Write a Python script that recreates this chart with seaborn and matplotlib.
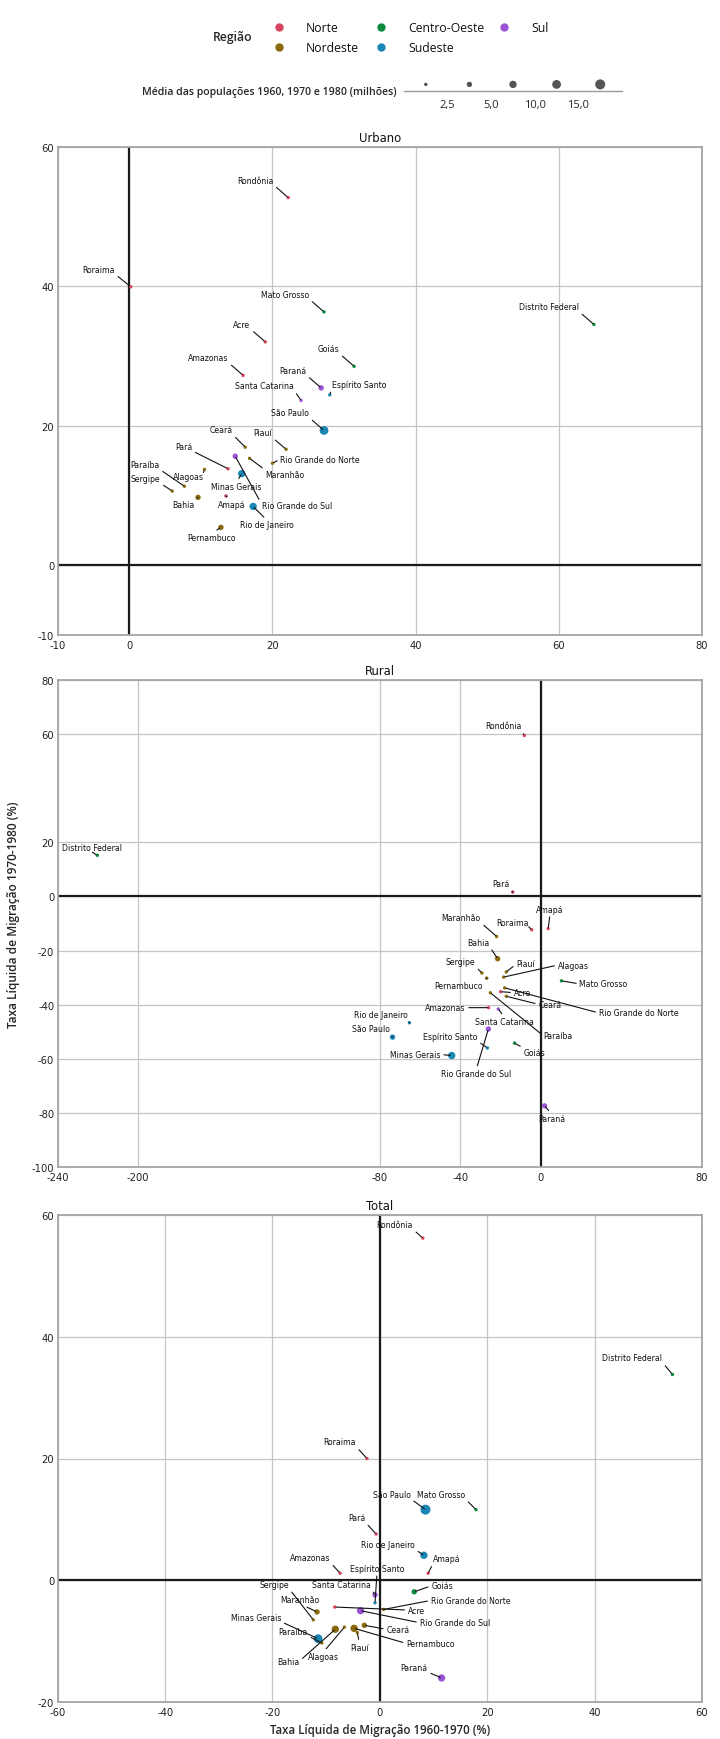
import numpy as np
import pandas as pd
import matplotlib
matplotlib.use('Agg')
import matplotlib.pyplot as plt
from matplotlib import font_manager
import seaborn as sns

# Estados e regiões
estados = ['Rondônia', 'Acre', 'Amazonas', 'Roraima', 'Pará', 'Amapá',
           'Maranhão', 'Piauí', 'Ceará', 'Rio Grande do Norte', 'Paraíba',
           'Pernambuco', 'Alagoas', 'Sergipe', 'Bahia',
           'Minas Gerais', 'Espírito Santo', 'Rio de Janeiro', 'São Paulo',
           'Paraná', 'Santa Catarina', 'Rio Grande do Sul',
           'Mato Grosso', 'Goiás', 'Distrito Federal']
regioes = ['Norte'] * 6 + ['Nordeste'] * 9 + ['Sudeste'] * 4 + ['Sul'] * 3 + ['Centro-Oeste'] * 3

# Urbano: taxa 1960-1970 (x) e 1970-1980 (y)
urb_x = [22.2, 19.0, 15.9, 0.2, 13.8, 13.5, 16.8, 21.9, 16.2, 20.0, 7.7, 12.8, 10.5, 6.0, 9.6,
         15.7, 28.0, 17.3, 27.2, 26.8, 24.0, 14.8, 27.2, 31.4, 64.9]
urb_y = [52.7, 32.0, 27.2, 39.9, 13.8, 9.9, 15.3, 16.6, 16.9, 14.6, 11.3, 5.4, 13.7, 10.6, 9.7,
         13.1, 24.4, 8.4, 19.3, 25.4, 23.6, 15.6, 36.3, 28.5, 34.5]
urb_pop = [0.12, 0.07, 0.5, 0.02, 1.1, 0.07, 0.8, 0.6, 1.8, 0.7, 1.0, 2.8, 0.7, 0.45, 3.0,
           6.2, 0.8, 8.0, 14.9, 2.6, 1.3, 4.0, 0.8, 1.5, 0.57]

# Rural
rur_x = [-8.2, -20.0, -26.0, -4.6, -14.0, 3.6, -22.0, -17.2, -17.2, -18.0, -25.1, -26.9, -18.5, -29.3, -21.5,
         -44.3, -26.6, -65.3, -73.7, 1.8, -21.2, -26.1, 10.2, -13.1, -220.3]
rur_y = [59.5, -35.2, -41.1, -12.3, 1.6, -11.9, -14.8, -27.9, -36.9, -33.8, -35.6, -30.2, -29.8, -28.3, -23.0,
         -58.8, -56.0, -46.7, -52.0, -77.4, -41.6, -49.0, -31.2, -54.2, 15.2]
rur_pop = [0.1, 0.16, 0.55, 0.02, 1.3, 0.05, 2.3, 1.1, 2.4, 0.85, 1.4, 2.3, 0.95, 0.48, 4.6,
           5.4, 0.9, 1.0, 3.1, 3.7, 1.6, 2.6, 0.9, 1.4, 0.05]

# Total
tot_x = [8.0, -8.4, -7.4, -2.4, -0.7, 9.0, -11.7, -4.2, -2.9, 0.7, -10.8, -4.8, -6.6, -12.4, -8.3,
         -11.5, -0.9, 8.2, 8.5, 11.5, -0.9, -3.6, 17.9, 6.4, 54.5]
tot_y = [56.2, -4.4, 1.15, 20.0, 7.6, 1.15, -5.2, -8.6, -7.4, -4.8, -10.3, -7.9, -7.7, -6.5, -8.05,
         -9.6, -3.7, 4.1, 11.6, -16.05, -2.4, -5.0, 11.6, -1.9, 33.8]
tot_pop = [0.22, 0.23, 1.04, 0.05, 2.37, 0.12, 3.16, 1.73, 4.3, 1.54, 2.39, 5.1, 1.62, 0.93, 7.65,
           11.65, 1.68, 9.0, 18.6, 6.3, 2.9, 6.6, 1.7, 2.9, 0.62]

ordem_regioes = ['Norte', 'Nordeste', 'Centro-Oeste', 'Sudeste', 'Sul']
cores = {'Norte': '#d6455f', 'Nordeste': '#8a6a0c', 'Centro-Oeste': '#0a8a3f',
         'Sudeste': '#1b87b5', 'Sul': '#9a55d6'}
cortes = [0, 2.5, 5, 10, 15, np.inf]
rotulos_tamanho = ['2,5', '5,0', '10,0', '15,0']
tamanhos = {0: 6, 1: 15, 2: 28, 3: 40, 4: 52}

# posição dos rótulos (px a partir do ponto): dx, dy, ha, va
pos_urb = {
    'Rondônia': (-15, 13, 'right', 'bottom'), 'Roraima': (-16, 13, 'right', 'bottom'),
    'Mato Grosso': (-15, 13, 'right', 'bottom'), 'Distrito Federal': (-15, 13, 'right', 'bottom'),
    'Acre': (-15, 13, 'right', 'bottom'), 'Goiás': (-15, 13, 'right', 'bottom'),
    'Amazonas': (-15, 13, 'right', 'bottom'), 'Paraná': (-15, 13, 'right', 'bottom'),
    'Espírito Santo': (2, 6, 'left', 'bottom'), 'Santa Catarina': (-7, 10, 'right', 'bottom'),
    'São Paulo': (-15, 13, 'right', 'bottom'), 'Ceará': (-13, 13, 'right', 'bottom'),
    'Piauí': (-14, 12, 'right', 'bottom'), 'Rio Grande do Norte': (8, 4, 'left', 'center'),
    'Maranhão': (16, -12, 'left', 'top'), 'Pará': (-36, 18, 'right', 'bottom'),
    'Rio Grande do Sul': (27, -49, 'left', 'center'), 'Minas Gerais': (-5, -8, 'center', 'top'),
    'Alagoas': (-1, -3, 'right', 'top'), 'Paraíba': (-25, 17, 'right', 'bottom'),
    'Sergipe': (-12, 8, 'right', 'bottom'), 'Bahia': (-4, -3, 'right', 'top'),
    'Amapá': (6, -4, 'center', 'top'), 'Rio de Janeiro': (14, -14, 'center', 'top'),
    'Pernambuco': (-9, -6, 'center', 'top'),
}
pos_rur = {
    'Rondônia': (-3, 5, 'right', 'bottom'), 'Distrito Federal': (-5, 3, 'center', 'bottom'),
    'Pará': (-3, 4, 'right', 'bottom'), 'Amapá': (2, 15, 'center', 'bottom'),
    'Roraima': (-3, 3, 'right', 'bottom'), 'Maranhão': (-16, 14, 'right', 'bottom'),
    'Bahia': (-8, 12, 'right', 'bottom'), 'Sergipe': (-7, 7, 'right', 'bottom'),
    'Pernambuco': (-4, -3, 'right', 'top'), 'Piauí': (10, 8, 'left', 'center'),
    'Alagoas': (54, 12, 'left', 'center'), 'Mato Grosso': (18, -3, 'left', 'center'),
    'Rio Grande do Norte': (94, -25, 'left', 'center'), 'Acre': (13, -1, 'left', 'center'),
    'Ceará': (32, -8, 'left', 'center'), 'Paraíba': (53, -43, 'left', 'center'),
    'Amazonas': (-23, 0, 'right', 'center'), 'Santa Catarina': (6, -8, 'center', 'top'),
    'Rio de Janeiro': (-2, 4, 'right', 'bottom'), 'São Paulo': (-3, 4, 'right', 'bottom'),
    'Rio Grande do Sul': (-12, -40, 'center', 'top'), 'Espírito Santo': (-10, 7, 'right', 'bottom'),
    'Goiás': (9, -5, 'left', 'top'), 'Minas Gerais': (-11, 1, 'right', 'center'),
    'Paraná': (7, -8, 'center', 'top'),
}
pos_tot = {
    'Rondônia': (-10, 9, 'right', 'bottom'), 'Distrito Federal': (-10, 12, 'right', 'bottom'),
    'Roraima': (-11, 12, 'right', 'bottom'), 'São Paulo': (-15, 11, 'right', 'bottom'),
    'Mato Grosso': (-11, 11, 'right', 'bottom'), 'Pará': (-11, 12, 'right', 'bottom'),
    'Rio de Janeiro': (-9, 6, 'right', 'bottom'), 'Amapá': (5, 10, 'left', 'bottom'),
    'Amazonas': (-10, 11, 'right', 'bottom'), 'Espírito Santo': (2, 30, 'center', 'bottom'),
    'Santa Catarina': (-4, 6, 'right', 'bottom'), 'Goiás': (17, 6, 'left', 'center'),
    'Rio Grande do Norte': (47, 9, 'left', 'center'), 'Acre': (73, -3, 'left', 'center'),
    'Rio Grande do Sul': (59, -12, 'left', 'center'), 'Maranhão': (-17, 8, 'center', 'bottom'),
    'Sergipe': (-24, 31, 'right', 'bottom'), 'Minas Gerais': (-37, 17, 'right', 'bottom'),
    'Paraíba': (-14, 7, 'right', 'bottom'), 'Bahia': (-36, -32, 'right', 'center'),
    'Alagoas': (-21, -25, 'center', 'top'), 'Pernambuco': (52, -15, 'left', 'center'),
    'Piauí': (2, -10, 'center', 'top'), 'Ceará': (22, -4, 'left', 'center'),
    'Paraná': (-14, 6, 'right', 'bottom'),
}

sns.set_theme(style='white')

# fonte estreita, se houver
fontes = font_manager.fontManager.ttflist
nomes = {f.name for f in fontes}
if 'Liberation Sans Narrow' in nomes:
    plt.rcParams['font.family'] = ['Liberation Sans Narrow', 'DejaVu Sans']
    estreita = 'normal'
elif any(f.name == 'DejaVu Sans' and 'condensed' in str(f.stretch) for f in fontes):
    plt.rcParams['font.family'] = ['DejaVu Sans']
    estreita = 'condensed'
else:
    plt.rcParams['font.family'] = ['Liberation Sans', 'DejaVu Sans']
    estreita = 'normal'
plt.rcParams['font.stretch'] = estreita
fonte_leg = ['Open Sans', 'DejaVu Sans']


def montar(x, y, pop):
    df = pd.DataFrame({'estado': estados, 'regiao': regioes, 'x': x, 'y': y, 'pop': pop})
    df['faixa'] = pd.cut(df['pop'], cortes, right=False, labels=False).astype(int)
    return df


def painel(ax, df, pos, titulo, xlim, ylim, xticks, yticks):
    sns.scatterplot(data=df, x='x', y='y', hue='regiao', palette=cores, size='faixa',
                    sizes=tamanhos, linewidth=0, legend=False, ax=ax, zorder=3)
    ax.set_xlim(*xlim)
    ax.set_ylim(*ylim)
    ax.set_xticks(xticks)
    ax.set_yticks(yticks)
    ax.set_xticklabels([str(t) for t in xticks])
    ax.set_yticklabels([str(t) for t in yticks])
    ax.grid(True, color='#c4c4c4', lw=0.9, zorder=0)
    ax.set_axisbelow(True)
    ax.axhline(0, color='#1a1a1a', lw=1.6, zorder=1.5)
    ax.axvline(0, color='#1a1a1a', lw=1.6, zorder=1.5)
    for s in ax.spines.values():
        s.set_visible(True)
        s.set_color('#a5a5a5')
        s.set_linewidth(1.3)
    ax.tick_params(axis='y', length=0, pad=2.5, labelsize=8, colors='#222222')
    ax.tick_params(axis='x', length=0, pad=3.5, labelsize=8, colors='#222222')
    ax.set_xlabel('')
    ax.set_ylabel('')
    ax.set_title(titulo, fontsize=9.3, pad=4, color='#111111')
    for _, r in df.iterrows():
        dx, dy, ha, va = pos[r['estado']]
        rel = ({'left': 0, 'center': 0.5, 'right': 1}[ha], {'bottom': 0, 'center': 0.5, 'top': 1}[va])
        ax.annotate(r['estado'], xy=(r['x'], r['y']), xytext=(dx * 0.72, dy * 0.72),
                    textcoords='offset points', ha=ha, va=va, fontsize=6.2, color='#111111',
                    arrowprops=dict(arrowstyle='-', color='#111111', lw=0.8,
                                    shrinkA=0, shrinkB=1, relpos=rel), zorder=4)


fig = plt.figure(figsize=(7.2, 17.4), dpi=100)
fig.patch.set_facecolor('white')

esq, larg = 57.7 / 720, 644.3 / 720
ax_urb = fig.add_axes([esq, 1 - 635.7 / 1740, larg, 488 / 1740])
ax_rur = fig.add_axes([esq, 1 - 1168 / 1740, larg, 487 / 1740])
ax_tot = fig.add_axes([esq, 1 - 1703 / 1740, larg, 487 / 1740])

painel(ax_urb, montar(urb_x, urb_y, urb_pop), pos_urb, 'Urbano',
       (-10, 80), (-10, 60), [-10, 0, 20, 40, 60, 80], [-10, 0, 20, 40, 60])
painel(ax_rur, montar(rur_x, rur_y, rur_pop), pos_rur, 'Rural',
       (-240, 80), (-100, 80), [-240, -200, -80, -40, 0, 80],
       [-100, -80, -60, -40, -20, 0, 20, 60, 80])
painel(ax_tot, montar(tot_x, tot_y, tot_pop), pos_tot, 'Total',
       (-60, 60), (-20, 60), [-60, -40, -20, 0, 20, 40, 60], [-20, 0, 20, 40, 60])

ax_rur.set_ylabel('Taxa Líquida de Migração 1970-1980 (%)', fontsize=8.6, family=fonte_leg,
                  weight='semibold', stretch='normal')
ax_rur.yaxis.set_label_coords(-0.058, 0.52)
ax_tot.set_xlabel('Taxa Líquida de Migração 1960-1970 (%)', fontsize=8.3, family=fonte_leg,
                  weight='semibold', stretch='normal')
ax_tot.xaxis.set_label_coords(0.5, -0.044)

# legendas no topo (coordenadas em px)
lax = fig.add_axes([0, 1 - 115 / 1740, 1, 115 / 1740])
lax.set_xlim(0, 720)
lax.set_ylim(115, 0)
lax.axis('off')
lax.text(252, 38, 'Região', ha='right', va='center', fontsize=8.8, family=fonte_leg,
         weight='semibold', stretch='normal')
col_x = [279, 279, 381, 381, 504]
lin_y = [28, 48, 28, 48, 28]
for reg, cx, cy in zip(ordem_regioes, col_x, lin_y):
    lax.scatter(cx, cy, s=36, color=cores[reg], linewidths=0)
    lax.text(cx + 27, cy, reg, ha='left', va='center', fontsize=8.8, family=fonte_leg,
             stretch='normal', color='#111111')

lax.text(397, 93, 'Média das populações 1960, 1970 e 1980 (milhões)', ha='right', va='center',
         fontsize=7.6, family=fonte_leg, weight='semibold', stretch='normal')

sax = fig.add_axes([404 / 720, 1 - 92 / 1740, 218 / 720, 12 / 1740])
sax.set_xlim(-0.5, 4.5)
sax.set_ylim(0, 1)
sax.scatter(list(tamanhos.keys()), [0.55] * 5, s=list(tamanhos.values()), color='#555555',
            linewidths=0, clip_on=False)
for s in ['top', 'left', 'right']:
    sax.spines[s].set_visible(False)
sax.spines['bottom'].set_color('#999999')
sax.spines['bottom'].set_linewidth(1)
sax.set_yticks([])
sax.set_xticks([0.5, 1.5, 2.5, 3.5])
sax.set_xticklabels(rotulos_tamanho, family=fonte_leg, fontsize=8, stretch='normal')
sax.tick_params(axis='x', length=3, width=0.8, color='#999999', pad=3)
sax.set_facecolor('none')

plt.savefig('out.png', dpi=100, facecolor='white')
